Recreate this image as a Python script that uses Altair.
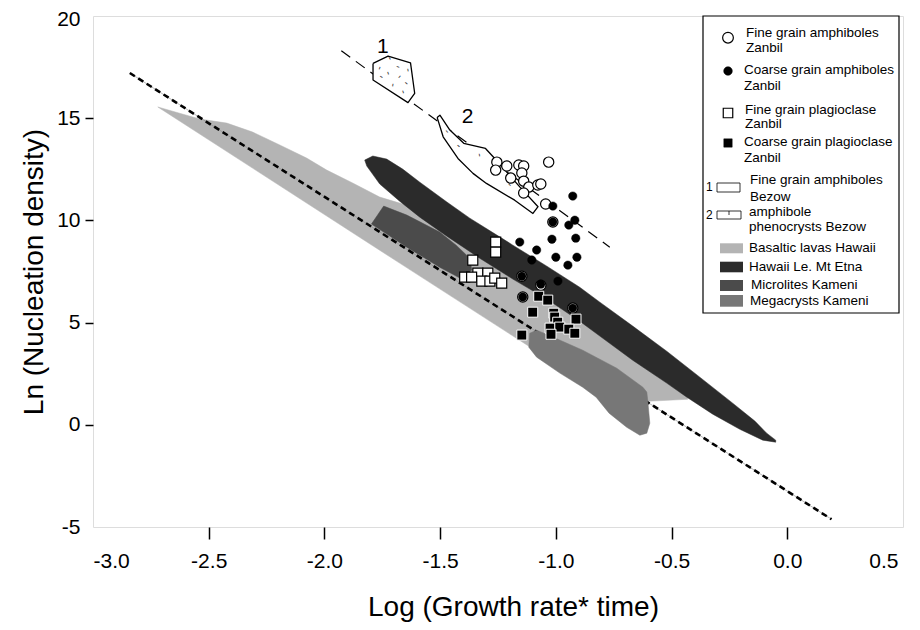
import altair as alt
import pandas as pd

FONT = "Liberation Sans"

# ---------------- data ----------------
# Basaltic lavas Hawaii (light grey band)
basalt_x = [-2.720, -2.539, -2.422, -2.310, -2.193, -2.077, -1.990, -1.878, -1.761, -1.618,
            -1.471, -1.372, -1.242, -1.039, -0.810, -0.594, -0.434, -0.430, -0.603, -0.983, -1.675]
basalt_y = [15.55, 14.96, 14.76, 14.32, 13.69, 13.05, 12.46, 11.83, 11.14, 10.65,
            9.80, 9.28, 8.15, 6.59, 4.63, 2.92, 1.55, 1.25, 1.15, 2.87, 7.91]

# Hawaii Le. Mt Etna (dark band)
etna_x = [-1.826, -1.791, -1.731, -1.662, -1.588, -1.471, -1.372, -1.255, -1.186, -1.039,
          -0.897, -0.810, -0.668, -0.521, -0.378, -0.236, -0.140, -0.089, -0.050,
          -0.050, -0.106, -0.205, -0.322, -0.434, -0.521, -0.668, -0.810, -0.897, -1.039,
          -1.186, -1.329, -1.471, -1.588, -1.675, -1.761, -1.817]
etna_y = [12.95, 13.15, 13.00, 12.51, 11.87, 10.90, 10.11, 9.28, 8.79, 7.76,
          6.73, 6.00, 4.83, 3.60, 2.33, 1.06, 0.18, -0.41, -0.75,
          -0.85, -0.75, -0.22, 0.52, 1.35, 2.04, 3.16, 4.34, 5.07, 6.15,
          7.13, 8.15, 9.23, 10.16, 10.94, 11.78, 12.66]

# Microlites Kameni
micro_x = [-1.797, -1.744, -1.644, -1.502, -1.431, -1.372, -1.363, -1.415, -1.502, -1.644]
micro_y = [9.82, 10.70, 10.26, 9.43, 8.79, 8.15, 7.57, 7.18, 7.71, 8.69]

# Megacrysts Kameni
mega_x = [-1.113, -1.083, -1.030, -0.884, -0.737, -0.624, -0.607, -0.603, -0.594, -0.607,
          -0.637, -0.694, -0.770, -0.826, -0.884, -0.983, -1.083, -1.117]
mega_y = [4.48, 4.63, 4.38, 3.65, 2.77, 1.84, 1.60, 1.20, 0.08, -0.41,
          -0.51, -0.12, 0.57, 1.35, 1.84, 2.53, 3.31, 3.80]

# Bezow fields (1: fine grain amphiboles, 2: amphibole phenocrysts)
bez1_x = [-1.790, -1.725, -1.628, -1.610, -1.639, -1.790]
bez1_y = [17.68, 18.04, 17.71, 16.22, 15.76, 16.87]
bez2_x = [-1.513, -1.501, -1.458, -1.398, -1.304, -1.264, -1.156, -1.077,
          -1.099, -1.178, -1.300, -1.358, -1.423, -1.487]
bez2_y = [15.04, 15.15, 14.42, 13.77, 13.52, 13.03, 11.64, 10.67,
          10.34, 10.99, 11.81, 12.30, 13.03, 14.09]

# hatch dashes inside field 1
hatch_x = [-1.718, -1.682, -1.761, -1.725, -1.675, -1.639, -1.646, -1.704, -1.754, -1.660]
hatch_y = [17.93, 17.52, 17.44, 17.20, 17.03, 17.36, 16.71, 16.62, 17.03, 16.29]
hatch_angle = [60, 20, 110, 70, 130, 80, 40, 100, 30, 70]
# small ticks inside field 2
tick2_x = [-1.470, -1.420, -1.330, -1.200]
tick2_y = [14.35, 13.65, 13.20, 11.75]
tick2_angle = [50, 40, 80, 45]

# Reference lines
short_dash_x = [-2.841, 0.191]
short_dash_y = [17.21, -4.62]
long_dash_x = [-1.927, -0.767]
long_dash_y = [18.30, 8.69]

# Zanbil samples
fine_amph_x = [-1.255, -1.260, -1.212, -1.195, -1.160, -1.139, -1.147, -1.139, -1.117, -1.078,
               -1.065, -1.139, -1.031, -1.044, -1.013, -1.147, -1.065, -1.143, -0.927]
fine_amph_y = [12.85, 12.46, 12.66, 12.07, 12.71, 12.66, 12.32, 11.92, 11.63, 11.73,
               11.78, 11.34, 12.85, 10.80, 9.92, 7.27, 6.83, 6.25, 5.71]
coarse_amph_x = [-0.927, -1.013, -1.013, -0.918, -0.944, -1.156, -1.017, -0.914, -1.083, -1.104,
                 -1.000, -0.909, -0.948, -0.991, -1.147, -1.065, -1.143, -0.927]
coarse_amph_y = [11.19, 10.70, 9.92, 10.01, 9.77, 8.94, 9.08, 9.13, 8.55, 8.06,
                 8.20, 8.20, 7.81, 7.03, 7.27, 6.88, 6.25, 5.71]
fine_plag_x = [-1.260, -1.260, -1.359, -1.394, -1.337, -1.294, -1.364, -1.320, -1.285, -1.264, -1.234]
fine_plag_y = [8.94, 8.45, 8.06, 7.22, 7.42, 7.42, 7.22, 7.03, 7.03, 7.18, 6.93]
coarse_plag_x = [-1.074, -1.035, -1.100, -1.009, -1.005, -0.913, -0.992, -1.025, -0.983, -0.944,
                 -1.021, -0.918, -1.147]
coarse_plag_y = [6.29, 6.10, 5.51, 5.46, 5.27, 5.17, 5.02, 4.73, 4.78, 4.68,
                 4.43, 4.48, 4.39]

field_labels = ["1", "2"]
field_label_x = [-1.748, -1.381]
field_label_y = [18.48, 15.06]

x_ticks = [-3.0, -2.5, -2.0, -1.5, -1.0, -0.5, 0.0, 0.5]
y_ticks = [-5, 0, 5, 10, 15, 20]

legend_labels = [
    ["Fine grain amphiboles", "Zanbil"],
    ["Coarse grain amphiboles", "Zanbil"],
    ["Fine grain plagioclase", "Zanbil"],
    ["Coarse grain plagioclase", "Zanbil"],
    ["Fine grain amphiboles", "Bezow"],
    ["amphibole", "phenocrysts Bezow"],
    ["Basaltic lavas Hawaii"],
    ["Hawaii Le. Mt Etna"],
    ["Microlites Kameni"],
    ["Megacrysts Kameni"],
]

C_BASALT = "#b4b4b4"
C_ETNA = "#2b2b2b"
C_MICRO = "#4b4b4b"
C_MEGA = "#777777"

# ---------------- scales / axes ----------------
xaxis = alt.Axis(
    values=x_ticks, domain=False, grid=False,
    labelExpr="(datum.value < 0 ? '-' : '') + format(abs(datum.value), '.1f')",
    tickSize=12, tickWidth=1.5, tickColor="black",
    tickOpacity={"condition": {"test": "datum.value <= -2.99 || datum.value >= 0.49", "value": 0}, "value": 1},
    labelOffset={"condition": {"test": "datum.value >= 0.49", "value": -5}, "value": 0},
    labelFont=FONT, labelFontSize=21, labelColor="black", labelPadding=11,
    title="Log (Growth rate* time)", titleFont=FONT, titleFontSize=28,
    titleFontWeight="normal", titleColor="black", titlePadding=22, titleX=420,
)
yaxis = alt.Axis(
    values=y_ticks, domain=False, grid=False,
    labelExpr="(datum.value < 0 ? '-' : '') + format(abs(datum.value), 'd')",
    tickSize=8, tickWidth=1.5, tickColor="black",
    tickOpacity={"condition": {"test": "datum.value <= -4.99 || datum.value >= 19.99", "value": 0}, "value": 1},
    labelOffset={"condition": {"test": "datum.value >= 19.99", "value": 3}, "value": 0},
    labelFont=FONT, labelFontSize=21, labelColor="black", labelPadding=5,
    title="Ln (Nucleation density)", titleFont=FONT, titleFontSize=28,
    titleFontWeight="normal", titleColor="black", titlePadding=8,
)
xs = alt.Scale(domain=[-3.0, 0.5], nice=False, zero=False)
ys = alt.Scale(domain=[-5, 20], nice=False, zero=False)
X = alt.X("x:Q", scale=xs, axis=xaxis)
Y = alt.Y("y:Q", scale=ys, axis=yaxis)


def poly_df(px, py):
    px2 = list(px) + [px[0]]
    py2 = list(py) + [py[0]]
    return pd.DataFrame({"x": px2, "y": py2, "i": list(range(len(px2)))})


def poly(px, py, fill, stroke=None, sw=0.0):
    return alt.Chart(poly_df(px, py)).mark_line(
        fill=fill, stroke=stroke if stroke else fill, strokeWidth=sw if sw else 0.5,
        strokeJoin="round"
    ).encode(x=X, y=Y, order="i:Q")


def line(px, py, dash, width, color="black"):
    df = pd.DataFrame({"x": px, "y": py, "i": [0, 1]})
    m = alt.Chart(df).mark_line(color=color, strokeWidth=width, strokeDash=dash) if dash else \
        alt.Chart(df).mark_line(color=color, strokeWidth=width)
    return m.encode(x=X, y=Y, order="i:Q")


def pts(px, py, shape, fill, stroke, size, sw):
    df = pd.DataFrame({"x": px, "y": py})
    return alt.Chart(df).mark_point(
        shape=shape, filled=True, fill=fill, stroke=stroke, strokeWidth=sw, size=size, opacity=1
    ).encode(x=X, y=Y)


def dashes(px, py, ang, size):
    df = pd.DataFrame({"x": px, "y": py, "a": ang})
    return alt.Chart(df).mark_text(text="-", font=FONT, fontSize=size, color="#444444",
                                   baseline="middle", align="center").encode(
        x=X, y=Y, angle=alt.Angle("a:Q", scale=None))


layers = [
    poly(basalt_x, basalt_y, C_BASALT),
    poly(micro_x, micro_y, C_MICRO),
    line(short_dash_x, short_dash_y, None, 0.6, "#888888"),
    line(short_dash_x, short_dash_y, [6, 4], 2.6),
    poly(etna_x, etna_y, C_ETNA),
    poly(mega_x, mega_y, C_MEGA),
    line(long_dash_x, long_dash_y, [11, 7], 1.2),
    poly(bez1_x, bez1_y, "white", "black", 1.3),
    poly(bez2_x, bez2_y, "white", "black", 1.3),
    dashes(hatch_x, hatch_y, hatch_angle, 11),
    dashes(tick2_x, tick2_y, tick2_angle, 11),
    alt.Chart(pd.DataFrame({"x": field_label_x, "y": field_label_y, "t": field_labels})).mark_text(
        font=FONT, fontSize=21, color="black", align="center", baseline="middle"
    ).encode(x=X, y=Y, text="t:N"),
    pts(fine_amph_x, fine_amph_y, "circle", "white", "black", 105, 1.2),
    pts(coarse_amph_x, coarse_amph_y, "circle", "black", "black", 70, 0.5),
    pts(fine_plag_x, fine_plag_y, "square", "white", "black", 100, 1.2),
    pts(coarse_plag_x, coarse_plag_y, "square", "black", "white", 100, 1.0),
]

# ---------------- legend (pixel layout) ----------------
one = pd.DataFrame({"a": [0]})


def vrect(x1, y1, x2, y2, fill, stroke=None, sw=1.0):
    kw = dict(fill=fill)
    if stroke:
        kw.update(stroke=stroke, strokeWidth=sw)
    return alt.Chart(one).mark_rect(**kw).encode(
        x=alt.value(x1), x2=alt.value(x2), y=alt.value(y1), y2=alt.value(y2))


def vtext(t, x, y, size=13.5):
    return alt.Chart(one).mark_text(
        text=t, font=FONT, fontSize=size, color="black", align="left", baseline="middle"
    ).encode(x=alt.value(x), y=alt.value(y))


def vpoint(x, y, shape, fill, stroke, size, sw):
    return alt.Chart(one).mark_point(
        shape=shape, filled=True, fill=fill, stroke=stroke, strokeWidth=sw, size=size, opacity=1
    ).encode(x=alt.value(x), y=alt.value(y))


legend = [vrect(610, 0, 806, 297, "white", "black", 1.2)]
legend += [
    vpoint(635, 21.7, "circle", "white", "black", 115, 1.2),
    vpoint(635, 55, "circle", "black", "black", 75, 0.5),
    vpoint(635, 97, "square", "white", "black", 90, 1.2),
    vpoint(635, 127, "square", "black", "black", 70, 0.5),
]
text_x = [653, 651, 652, 651, 657, 656, 656, 656, 658, 657]
text_y = [[17.3, 32.3], [54, 69.7], [94, 108.3], [125.7, 141.7], [164, 180.7],
          [195.7, 210.7], [232.3], [250.7], [269], [285]]
for labs, tx, tys in zip(legend_labels, text_x, text_y):
    for lab, ty in zip(labs, tys):
        legend.append(vtext(lab, tx, ty))
legend += [
    vtext("1", 613, 170.7, 12), vrect(624, 167, 647, 176, "white", "black", 0.8),
    vtext("2", 613, 199, 12), vrect(624, 195, 648, 203, "white", "black", 0.8),
    alt.Chart(one).mark_rule(color="black", strokeWidth=0.8).encode(
        x=alt.value(636), y=alt.value(195), y2=alt.value(199)),
    vrect(627, 227.3, 650, 237.3, C_BASALT),
    vrect(627, 245.7, 650, 256.3, C_ETNA),
    vrect(627, 264, 650, 275, C_MICRO),
    vrect(627, 279, 650, 290.7, C_MEGA),
]

chart = alt.layer(*layers, *legend).properties(
    width=810, height=511,
    autosize=alt.AutoSizeParams(type="none"),
    padding={"left": 85, "top": 8, "right": 9, "bottom": 95},
).configure_view(stroke="black", strokeWidth=1.6).configure(background="white")

chart.save("out.html", embed_options={"renderer": "svg", "actions": False})
